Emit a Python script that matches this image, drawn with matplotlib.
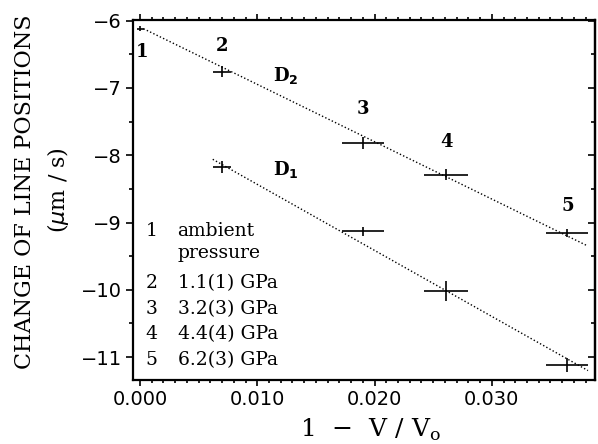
import matplotlib
matplotlib.use("Agg")
import matplotlib.pyplot as plt
import numpy as np
from matplotlib.ticker import MultipleLocator, NullFormatter

# Data
compression = [0.0, 0.0070, 0.0190, 0.0261, 0.0364]
d2_shift = [-6.12, -6.76, -7.82, -8.29, -9.16]
d2_xerr = [0.0003, 0.0008, 0.0018, 0.0019, 0.0018]
d2_yerr = [0.04, 0.08, 0.09, 0.08, 0.06]

d1_compression = [0.0070, 0.0190, 0.0261, 0.0364]
d1_shift = [-8.18, -9.13, -10.02, -11.12]
d1_xerr = [0.0008, 0.0018, 0.0019, 0.0018]
d1_yerr = [0.09, 0.07, 0.15, 0.10]

fit_d2_x = [0.0003, 0.0382]
fit_d2_y = [-6.12, -9.35]
fit_d1_x = [0.0062, 0.0382]
fit_d1_y = [-8.06, -11.20]

point_labels = ["1", "2", "3", "4", "5"]
legend_nums = ["1", "", "2", "3", "4", "5"]
legend_txt = ["ambient", "pressure", "1.1(1) GPa", "3.2(3) GPa", "4.4(4) GPa", "6.2(3) GPa"]

fig = plt.figure(figsize=(5.98, 4.44), dpi=100)
ax = fig.add_axes([133/598, 1-380/444, (595-133)/598, (380-20)/444])

serif = "DejaVu Serif"

ax.plot(fit_d2_x, fit_d2_y, color="black", lw=1.0, linestyle=(0, (1, 1.6)))
ax.plot(fit_d1_x, fit_d1_y, color="black", lw=1.0, linestyle=(0, (1, 1.6)))
ax.errorbar(compression, d2_shift, xerr=d2_xerr, yerr=d2_yerr, fmt="none",
            ecolor="black", elinewidth=1.2, capsize=0)
ax.errorbar(d1_compression, d1_shift, xerr=d1_xerr, yerr=d1_yerr, fmt="none",
            ecolor="black", elinewidth=1.2, capsize=0)

ax.set_xlim(-0.0006, 0.0388)
ax.set_ylim(-11.34, -5.99)

ax.xaxis.set_minor_locator(MultipleLocator(0.001))
ax.yaxis.set_minor_locator(MultipleLocator(0.5))
ax.set_xticks([0.0, 0.01, 0.02, 0.03])
ax.set_xticklabels(["0.000", "0.010", "0.020", "0.030"])
ax.set_yticks([-6, -7, -8, -9, -10, -11])
ax.set_yticklabels(["\u22126", "\u22127", "\u22128", "\u22129", "\u221210", "\u221211"])

ax.tick_params(which="both", direction="out", width=1.2)
ax.tick_params(which="major", length=5, labelsize=14, pad=3)
ax.tick_params(which="minor", length=3)
ax.tick_params(axis="x", which="major", top=True, length=4)
ax.tick_params(axis="x", which="minor", top=True, length=2.5)
for lab in ax.get_xticklabels() + ax.get_yticklabels():
    lab.set_family("DejaVu Sans")
for sp in ax.spines.values():
    sp.set_linewidth(1.6)

# right-side ticks pointing inward
sec = ax.secondary_yaxis("right")
sec.set_yticks([-6, -7, -8, -9, -10, -11])
sec.yaxis.set_minor_locator(MultipleLocator(0.5))
sec.yaxis.set_major_formatter(NullFormatter())
sec.tick_params(which="both", direction="in", width=1.2)
sec.tick_params(which="major", length=5)
sec.tick_params(which="minor", length=3)
sec.spines["right"].set_linewidth(1.6)

# point labels
lab_x = [0.0002, 0.0070, 0.0190, 0.0261, 0.0365]
lab_y = [-6.47, -6.37, -7.32, -7.81, -8.75]
for t, x, y in zip(point_labels, lab_x, lab_y):
    ax.text(x, y, t, ha="center", va="center", fontsize=13, fontweight="bold", family=serif)
ax.text(0.0124, -6.81, r"D$_\mathbf{2}$", ha="center", va="center", fontsize=13,
        fontweight="bold", family=serif)
ax.text(0.0124, -8.21, r"D$_\mathbf{1}$", ha="center", va="center", fontsize=13,
        fontweight="bold", family=serif)

# legend text
leg_y = [-9.13, -9.46, -9.90, -10.28, -10.66, -11.04]
for n, t, y in zip(legend_nums, legend_txt, leg_y):
    ax.text(0.0010, y, n, ha="center", va="center", fontsize=13.5, family=serif)
    ax.text(0.0032, y, t, ha="left", va="center", fontsize=13.5, family=serif)

fig.text(25/598, 1-192/444, "CHANGE OF LINE POSITIONS", rotation=90, ha="center",
         va="center", fontsize=16, family=serif)
fig.text(58/598, 1-190/444, "($\\mu$m / s)", rotation=90, ha="center", va="center",
         fontsize=16, family=serif)
fig.text(370/598, 1-430/444, "1  \u2212  V / V$_\\mathregular{o}$", ha="center", va="center",
         fontsize=18, family=serif)

fig.savefig("out.png", dpi=100)
